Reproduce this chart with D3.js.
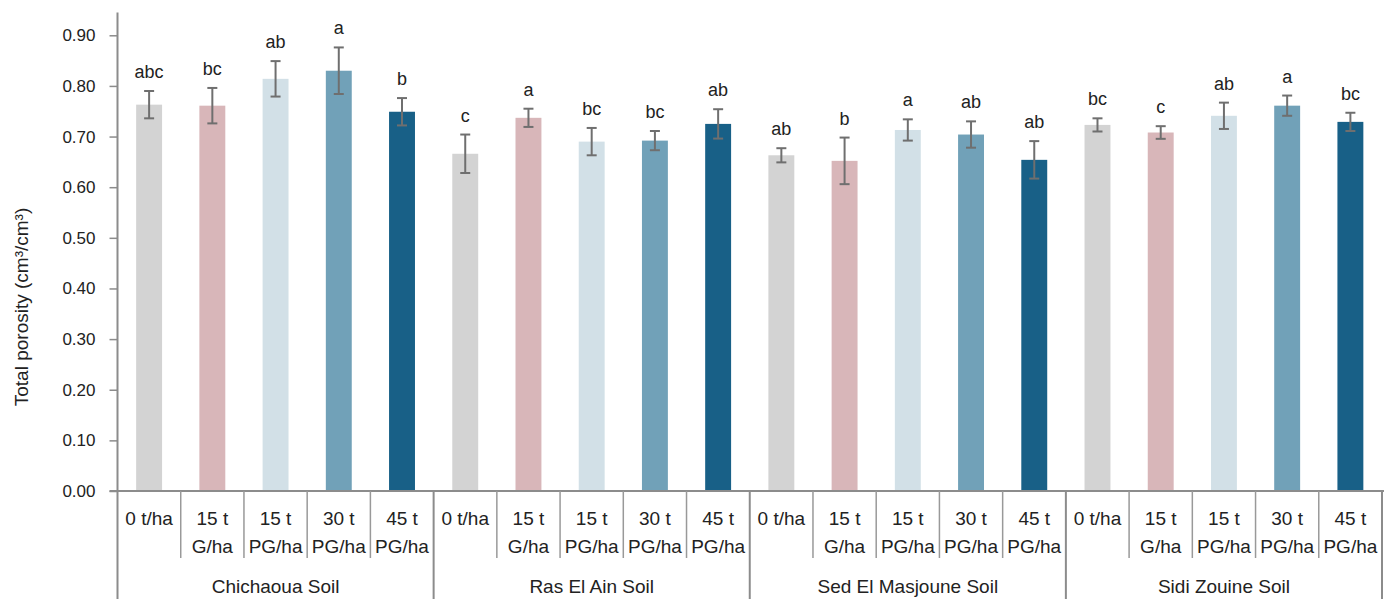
<!DOCTYPE html>
<html>
<head>
<meta charset="utf-8">
<script src="https://cdn.jsdelivr.net/npm/d3@7"></script>
<style>
  html, body { margin: 0; padding: 0; background: #fff; }
  svg { display: block; font-family: "Liberation Sans", Arial, sans-serif; }
</style>
</head>
<body>
<svg id="chart" width="1390" height="599"></svg>
<script>
const soils = ["Chichaoua Soil", "Ras El Ain Soil", "Sed El Masjoune Soil", "Sidi Zouine Soil"];
const treatLine1 = ["0 t/ha", "15 t", "15 t", "30 t", "45 t"];
const treatLine2 = ["", "G/ha", "PG/ha", "PG/ha", "PG/ha"];
const colors = ["#d3d3d3", "#d8b6b9", "#d2e0e7", "#71a1b8", "#186087"];

const meanChichaoua = [0.763, 0.761, 0.814, 0.830, 0.749];
const meanRasElAin = [0.666, 0.737, 0.690, 0.692, 0.725];
const meanSedElMasjoune = [0.663, 0.652, 0.713, 0.704, 0.654];
const meanSidiZouine = [0.723, 0.708, 0.741, 0.761, 0.729];

const errChichaoua = [0.027, 0.035, 0.035, 0.046, 0.027];
const errRasElAin = [0.038, 0.018, 0.027, 0.019, 0.029];
const errSedElMasjoune = [0.014, 0.046, 0.021, 0.026, 0.037];
const errSidiZouine = [0.013, 0.0125, 0.026, 0.020, 0.018];

const lettersChichaoua = ["abc", "bc", "ab", "a", "b"];
const lettersRasElAin = ["c", "a", "bc", "bc", "ab"];
const lettersSedElMasjoune = ["ab", "b", "a", "ab", "ab"];
const lettersSidiZouine = ["bc", "c", "ab", "a", "bc"];

const yTicks = [0, 0.1, 0.2, 0.3, 0.4, 0.5, 0.6, 0.7, 0.8, 0.9];
const yMax = 0.945;
const yTitle = "Total porosity (cm³/cm³)";

(function () {
const means = [meanChichaoua, meanRasElAin, meanSedElMasjoune, meanSidiZouine];
const errs = [errChichaoua, errRasElAin, errSedElMasjoune, errSidiZouine];
const letters = [lettersChichaoua, lettersRasElAin, lettersSedElMasjoune, lettersSidiZouine];

const data = [];
soils.forEach((s, gi) => {
  treatLine1.forEach((t, ti) => {
    data.push({ key: gi + "-" + ti, soil: s, gi, ti, l1: t, l2: treatLine2[ti],
      v: means[gi][ti], e: errs[gi][ti], letter: letters[gi][ti], color: colors[ti] });
  });
});

const svg = d3.select("#chart");
const pLeft = 117.5, pRight = 1382, pBottom = 491, pTop = 12.5;
const axisColor = "#8c8c8c";

const y = d3.scaleLinear().domain([0, yMax]).range([pBottom, pTop]);
const xg = d3.scaleBand().domain(soils).range([pLeft, pRight]).padding(0);
const xi = d3.scaleBand().domain(d3.range(treatLine1.length)).range([0, xg.bandwidth()]).padding(0);
const xc = d => xg(d.soil) + xi(d.ti) + xi.bandwidth() / 2;
const barW = xi.bandwidth() * 0.41;

// bars
svg.append("g").selectAll("rect").data(data).join("rect")
  .attr("x", d => xc(d) - barW / 2)
  .attr("y", d => y(d.v))
  .attr("width", barW)
  .attr("height", d => y(0) - y(d.v))
  .attr("fill", d => d.color);

// error bars
const eg = svg.append("g").attr("stroke", "#6f6f6f").attr("stroke-width", 2).attr("fill", "none");
data.forEach(d => {
  const cx = xc(d), t = y(d.v + d.e), b = y(d.v - d.e);
  eg.append("line").attr("x1", cx).attr("x2", cx).attr("y1", t).attr("y2", b);
  eg.append("line").attr("x1", cx - 5).attr("x2", cx + 5).attr("y1", t).attr("y2", t);
  eg.append("line").attr("x1", cx - 5).attr("x2", cx + 5).attr("y1", b).attr("y2", b);
});

// letters
svg.append("g").selectAll("text").data(data).join("text")
  .attr("x", d => xc(d))
  .attr("y", d => y(d.v + d.e) - 13)
  .attr("text-anchor", "middle")
  .attr("font-size", 18)
  .attr("fill", "#222")
  .text(d => d.letter);

// y axis
const yAxis = svg.append("g").attr("transform", `translate(${pLeft},0)`)
  .call(d3.axisLeft(y).tickValues(yTicks).tickFormat(d3.format(".2f")).tickSize(8).tickPadding(14));
yAxis.select(".domain").attr("stroke", axisColor).attr("stroke-width", 2)
  .attr("d", `M0,${pTop}V${pBottom + 108}`);
yAxis.selectAll(".tick line").attr("stroke", axisColor).attr("stroke-width", 1.5);
yAxis.selectAll(".tick text").attr("font-size", 17).attr("fill", "#222")
  .attr("font-family", "Liberation Sans, Arial, sans-serif");

// x axis baseline
svg.append("line").attr("x1", pLeft - 8).attr("x2", pRight + 2).attr("y1", pBottom).attr("y2", pBottom)
  .attr("stroke", axisColor).attr("stroke-width", 2);

// separators
const sepG = svg.append("g").attr("stroke", "#999").attr("stroke-width", 1.5);
data.forEach(d => {
  if (d.ti > 0) {
    const x = xg(d.soil) + xi(d.ti);
    sepG.append("line").attr("x1", x).attr("x2", x).attr("y1", pBottom).attr("y2", 558);
  }
});
soils.forEach((s) => {
  const x = xg(s) + xg.bandwidth();
  sepG.append("line").attr("x1", x).attr("x2", x).attr("y1", pBottom).attr("y2", 599)
    .attr("stroke", axisColor).attr("stroke-width", 2);
});

// category labels
const cl = svg.append("g").attr("font-size", 19).attr("fill", "#222").attr("text-anchor", "middle");
data.forEach(d => {
  cl.append("text").attr("x", xc(d)).attr("y", 525).text(d.l1);
  if (d.l2) cl.append("text").attr("x", xc(d)).attr("y", 553).text(d.l2);
});

// group labels
svg.append("g").selectAll("text").data(soils).join("text")
  .attr("x", s => xg(s) + xg.bandwidth() / 2)
  .attr("y", 593)
  .attr("text-anchor", "middle")
  .attr("font-size", 19)
  .attr("fill", "#222")
  .text(s => s);

// y title
svg.append("text")
  .attr("transform", "translate(28,307) rotate(-90)")
  .attr("text-anchor", "middle")
  .attr("font-size", 19)
  .attr("fill", "#222")
  .text(yTitle);
})();
</script>
</body>
</html>
